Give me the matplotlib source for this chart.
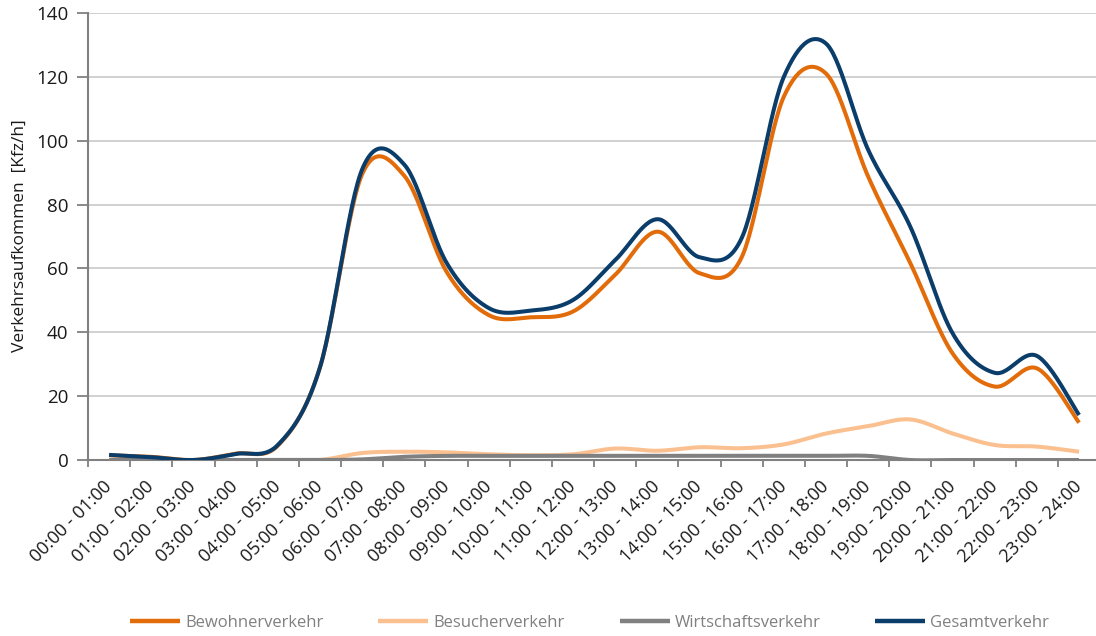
import numpy as np
import matplotlib
matplotlib.use("Agg")
import matplotlib.pyplot as plt

plt.rcParams['font.family'] = ['Open Sans', 'DejaVu Sans']

hours = ["%02d:00 - %02d:00" % (h, h + 1) for h in range(24)]

bewohner = [1.5, 1.0, 0.0, 2.0, 4.5, 29.0, 89.5, 89.0, 59.0, 45.4, 44.7, 46.5,
            58.0, 71.5, 58.5, 63.5, 113.8, 121.0, 88.7, 61.6, 33.4, 23.0, 28.7, 11.7]
besucher = [0.0, 0.0, 0.0, 0.0, 0.0, 0.0, 2.2, 2.6, 2.4, 1.8, 1.5, 1.8,
            3.6, 2.9, 4.0, 3.7, 4.9, 8.3, 10.6, 12.7, 8.3, 4.7, 4.2, 2.6]
wirtschaft = [0.0, 0.0, 0.0, 0.0, 0.0, 0.0, 0.2, 1.0, 1.3, 1.3, 1.3, 1.3,
              1.3, 1.3, 1.3, 1.3, 1.3, 1.3, 1.3, 0.0, 0.0, 0.0, 0.0, 0.0]
gesamt = [1.6, 0.9, 0.0, 1.9, 4.7, 29.0, 91.0, 92.5, 61.8, 47.6, 46.8, 50.1,
          62.6, 75.4, 63.5, 69.5, 120.0, 130.4, 97.1, 73.0, 39.7, 27.3, 32.6, 14.1]

series = [("Bewohnerverkehr", bewohner, "#E36C0A"),
          ("Besucherverkehr", besucher, "#FAC090"),
          ("Wirtschaftsverkehr", wirtschaft, "#808080"),
          ("Gesamtverkehr", gesamt, "#0B3D6B")]


def smooth(y, n=30):
    # excel style smoothed line (catmull-rom bezier)
    y = np.asarray(y, float)
    x = np.arange(len(y), dtype=float)
    xp = np.concatenate([[x[0]], x, [x[-1]]])
    yp = np.concatenate([[y[0]], y, [y[-1]]])
    xs, ys = [], []
    t = np.linspace(0, 1, n)
    for i in range(len(y) - 1):
        p0x, p0y = xp[i + 1], yp[i + 1]
        p3x, p3y = xp[i + 2], yp[i + 2]
        c1x = p0x + (xp[i + 2] - xp[i]) / 6
        c1y = p0y + (yp[i + 2] - yp[i]) / 6
        c2x = p3x - (xp[i + 3] - xp[i + 1]) / 6
        c2y = p3y - (yp[i + 3] - yp[i + 1]) / 6
        bx = (1-t)**3*p0x + 3*(1-t)**2*t*c1x + 3*(1-t)*t**2*c2x + t**3*p3x
        by = (1-t)**3*p0y + 3*(1-t)**2*t*c1y + 3*(1-t)*t**2*c2y + t**3*p3y
        xs.append(bx)
        ys.append(by)
    return np.concatenate(xs), np.concatenate(ys)


fig = plt.figure(figsize=(10.96, 6.36), dpi=100)
ax = fig.add_axes([0.0803, 0.2767, 0.9235, 0.703])

for name, vals, col in series:
    sx, sy = smooth(vals)
    ax.plot(sx, sy, color=col, lw=2.9, label=name, solid_capstyle='butt', zorder=3)

ax.set_xlim(-0.5, 23.5)
ax.set_ylim(0, 140)
ax.set_yticks(range(0, 141, 20))
ax.yaxis.grid(True, color='#c8c8c8', lw=1.2)
ax.set_axisbelow(True)

ax.set_xticks(np.arange(-0.5, 24, 1))
ax.set_xticklabels([])
ax.set_xticks(range(24), minor=True)
ax.set_xticklabels(hours, minor=True, rotation=45, ha='right', va='center',
                   rotation_mode='anchor', fontsize=13, color='#1a1a1a')
ax.tick_params(axis='x', which='minor', length=0, pad=17)
ax.tick_params(axis='x', which='major', length=5, color='#808080', width=1.3)
ax.tick_params(axis='y', length=8, color='#808080', width=1.3, labelsize=13.5,
               pad=6, labelcolor='#1a1a1a')

for s in ['top', 'right']:
    ax.spines[s].set_visible(False)
for s in ['left', 'bottom']:
    ax.spines[s].set_color('#808080')
    ax.spines[s].set_linewidth(1.5)

fig.text(20 / 1096, 1 - 236 / 636, "Verkehrsaufkommen  [Kfz/h]", rotation=90,
         ha='center', va='center', fontsize=12.5, color='#1a1a1a')

leg = fig.legend(loc='center', bbox_to_anchor=(0.538, 0.02), ncol=4, frameon=False,
                 fontsize=12, handlelength=3.0, handletextpad=0.3, columnspacing=3.3)
for t in leg.get_texts():
    t.set_color('#808080')
for h in leg.get_lines():
    h.set_linewidth(3.2)

fig.savefig("out.png", dpi=100)
